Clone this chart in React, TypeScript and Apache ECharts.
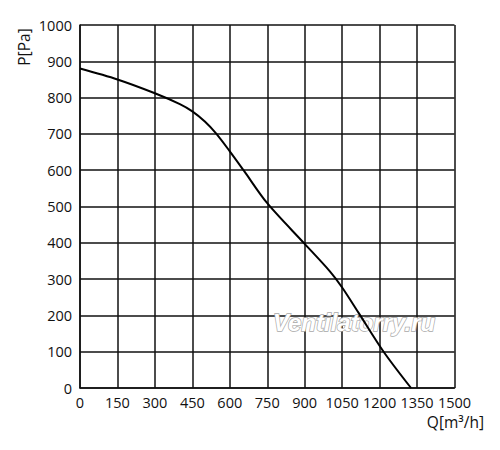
import React, { useEffect, useRef } from "react";
import * as echarts from "echarts";

const flowQ = [0, 150, 300, 400, 450, 500, 544, 600, 655, 750, 900, 1000, 1050, 1116, 1216, 1326];
const pressureP = [880, 850, 812, 782, 762, 734, 702, 652, 600, 509, 397, 322, 277, 207, 100, 0];
const xTicks = { min: 0, max: 1500, interval: 150 };
const yTicks = { min: 0, max: 1000, interval: 100 };
const yName = "P[Pa]";
const xName = "Q[m³/h]";
const watermark = "Ventilatorry.ru";

export default function App() {
  const ref = useRef<HTMLDivElement>(null);
  useEffect(() => {
    if (!ref.current) return;
    const chart = echarts.init(ref.current, undefined, { renderer: "svg" });
    const font = "'Open Sans', 'Noto Sans', sans-serif";
    const fmt = (v: number) => String(v);
    chart.setOption({
      animation: false,
      backgroundColor: "#ffffff",
      grid: { left: 80, top: 25, right: 45.5, bottom: 62, containLabel: false },
      xAxis: {
        type: "value",
        min: xTicks.min,
        max: xTicks.max,
        interval: xTicks.interval,
        axisLine: { show: true, lineStyle: { color: "#111", width: 1.5 } },
        axisTick: { show: false },
        axisLabel: { color: "#111", fontSize: 14.5, fontFamily: font, margin: 7, formatter: fmt },
        splitLine: { show: true, lineStyle: { color: "#111", width: 1.5 } },
      },
      yAxis: {
        type: "value",
        min: yTicks.min,
        max: yTicks.max,
        interval: yTicks.interval,
        axisLine: { show: true, lineStyle: { color: "#111", width: 1.5 } },
        axisTick: { show: false },
        axisLabel: { color: "#111", fontSize: 14.5, fontFamily: font, margin: 8, formatter: fmt },
        splitLine: { show: true, lineStyle: { color: "#111", width: 1.5 } },
      },
      graphic: [
        {
          type: "text",
          x: 24,
          y: 47,
          rotation: Math.PI / 2,
          style: {
            text: yName,
            fill: "#111",
            fontSize: 15.5,
            fontFamily: font,
            align: "center",
            verticalAlign: "middle",
          },
        },
        {
          type: "text",
          x: 484,
          y: 422,
          style: {
            text: xName,
            fill: "#111",
            fontSize: 15.5,
            fontFamily: font,
            align: "right",
            verticalAlign: "middle",
          },
        },
        {
          type: "text",
          x: 354,
          y: 322,
          z: 1,
          style: {
            text: watermark,
            fill: "#ffffff",
            stroke: "#a8a8a8",
            lineWidth: 1.4,
            fontSize: 24,
            fontStyle: "italic",
            fontWeight: "bold",
            fontFamily: "'Liberation Sans', Arial, sans-serif",
            align: "center",
            verticalAlign: "middle",
          },
        },
      ],
      series: [
        {
          type: "line",
          z: 5,
          data: flowQ.map((q, i) => [q, pressureP[i]]),
          smooth: 0.3,
          showSymbol: false,
          lineStyle: { color: "#000", width: 2 },
        },
      ],
    });
    return () => chart.dispose();
  }, []);
  return (
    <div
      ref={ref}
      style={{ position: "fixed", left: 0, top: 0, width: 500, height: 450 }}
    />
  );
}
